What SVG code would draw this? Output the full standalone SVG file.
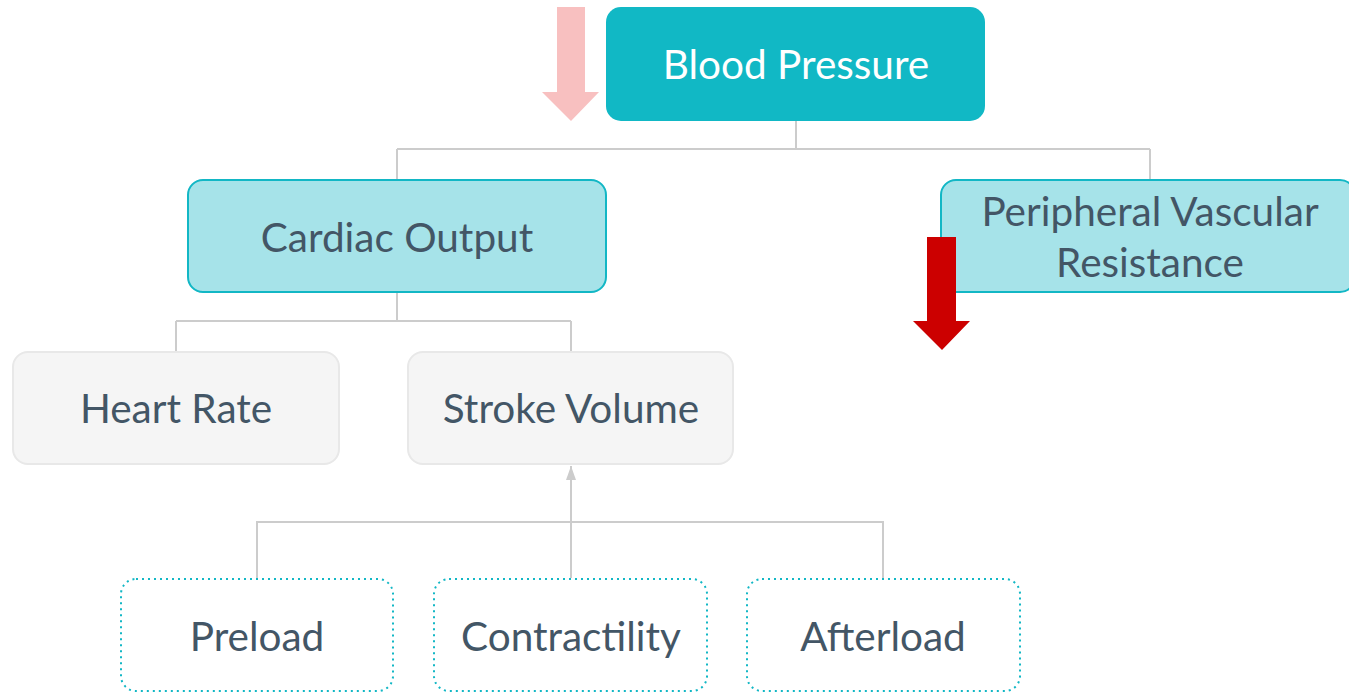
<svg xmlns="http://www.w3.org/2000/svg" width="1349" height="693" viewBox="0 0 1349 693">
  <style>
    text { font-family: Lato, "Liberation Sans", sans-serif; font-size: 40.5px; text-anchor: middle; fill: #435666; }
    .root rect { fill: #11b8c5; }
    .root text { fill: #ffffff; }
    .level1 rect { fill: #a6e3e9; stroke: #12b7c5; stroke-width: 2; }
    .level2 rect { fill: #f5f5f5; stroke: #e8e8e8; stroke-width: 2; }
    .factor rect { fill: #ffffff; stroke: #12b7c5; stroke-width: 2; stroke-dasharray: 2 4; }
    .link { fill: none; stroke: #cccccc; stroke-width: 2; }
  </style>
  <defs>
    <marker id="arrowGrey" viewBox="0 0 14 10" refX="14" refY="5" markerWidth="14" markerHeight="10" markerUnits="userSpaceOnUse" orient="auto">
      <path d="M0,0 L14,5 L0,10 Z" fill="#cccccc"/>
    </marker>
  </defs>

  <!-- connectors -->
  <g id="connectors">
    <path class="link" d="M796,121 V149 M397,149 H1150 M397,149 V179 M1150,149 V179"/>
    <path class="link" d="M397,292 V321 M176,321 H571 M176,321 V351 M571,321 V351"/>
    <path class="link" d="M257,578 V522 H883 V578"/>
    <path class="link" d="M571,578 V466" marker-end="url(#arrowGrey)"/>
  </g>

  <!-- root -->
  <g id="blood-pressure" class="root">
    <rect x="606" y="7" width="379" height="114" rx="15"/>
    <text x="796" y="79">Blood Pressure</text>
  </g>

  <g id="cardiac-output" class="level1">
    <rect x="188" y="180" width="418" height="112" rx="15"/>
    <text x="397" y="252">Cardiac Output</text>
  </g>

  <g id="peripheral-vascular-resistance" class="level1">
    <rect x="941" y="180" width="414" height="112" rx="15"/>
    <text x="1150" y="226">Peripheral Vascular</text>
    <text x="1150" y="277">Resistance</text>
  </g>

  <g id="heart-rate" class="level2">
    <rect x="13" y="352" width="326" height="112" rx="15"/>
    <text x="176" y="423">Heart Rate</text>
  </g>

  <g id="stroke-volume" class="level2">
    <rect x="408" y="352" width="325" height="112" rx="15"/>
    <text x="571" y="423">Stroke Volume</text>
  </g>

  <g id="preload" class="factor">
    <rect x="121" y="579" width="272" height="112" rx="15"/>
    <text x="257" y="651">Preload</text>
  </g>

  <g id="contractility" class="factor">
    <rect x="434" y="579" width="273" height="112" rx="15"/>
    <text x="571" y="651">Contractility</text>
  </g>

  <g id="afterload" class="factor">
    <rect x="747" y="579" width="273" height="112" rx="15"/>
    <text x="883" y="651">Afterload</text>
  </g>

  <!-- trend arrows -->
  <g id="arrow-bp-decrease">
    <path d="M557,7 H585 V92 H599 L571,121 L542,92 H557 Z" fill="#f8c0c0"/>
  </g>
  <g id="arrow-pvr-decrease">
    <path d="M927,237 H956 V321 H970 L942,350 L913,321 H927 Z" fill="#cc0000"/>
  </g>
</svg>
